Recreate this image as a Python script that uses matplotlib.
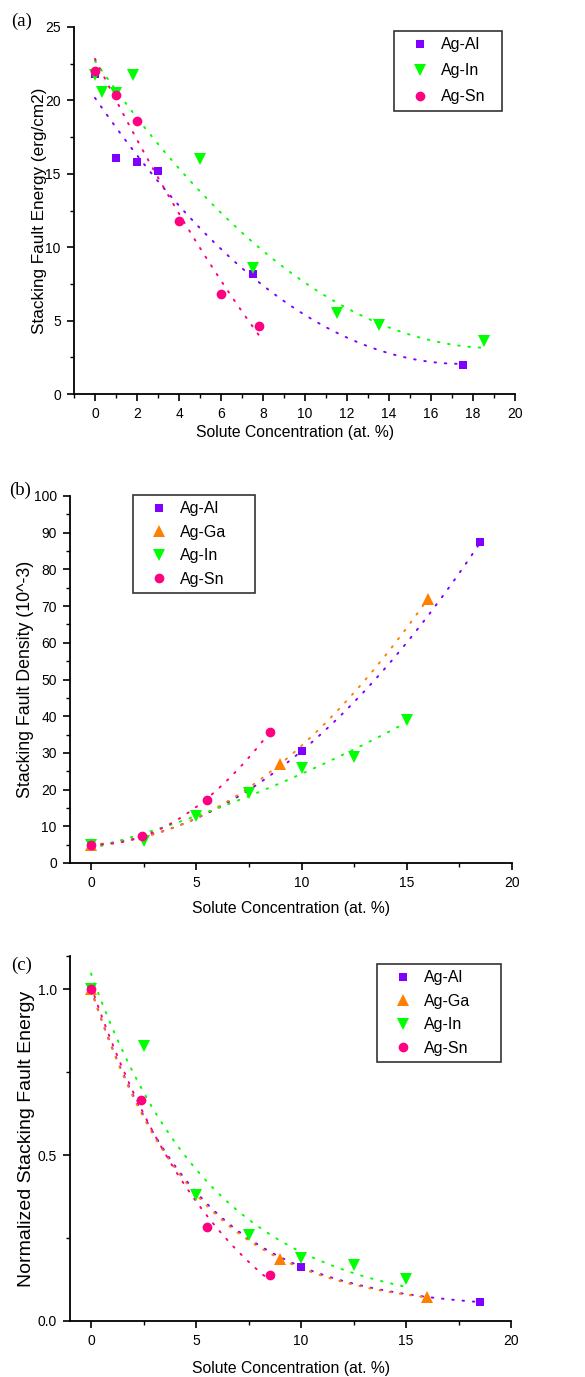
import numpy as np
import matplotlib
matplotlib.use("Agg")
import matplotlib.pyplot as plt
from matplotlib.ticker import MultipleLocator, FixedLocator, FormatStrFormatter

plt.rcParams['font.family'] = ['Liberation Sans', 'DejaVu Sans']

# ---------------- data ----------------
# Panel (a): stacking fault energy (erg/cm2)
a_al_x = [0, 1, 2, 3, 7.5, 17.5]
a_al_y = [21.8, 16.1, 15.8, 15.2, 8.2, 2.0]
a_in_x = [0, 0.35, 1, 1.8, 5, 7.5, 11.5, 13.5, 18.5]
a_in_y = [21.7, 20.6, 20.5, 21.7, 16.0, 8.6, 5.5, 4.7, 3.6]
a_sn_x = [0, 1, 2, 4, 6, 7.8]
a_sn_y = [22.0, 20.4, 18.6, 11.8, 6.8, 4.6]

# Panel (b): stacking fault density (10^-3)
b_al_x = [0, 10, 18.5]
b_al_y = [5, 30.5, 87.4]
b_ga_x = [0, 9, 16]
b_ga_y = [5, 27, 72]
b_in_x = [0, 2.5, 5, 7.5, 10, 12.5, 15]
b_in_y = [5, 6.0, 12.9, 19.0, 25.9, 28.9, 38.9]
b_sn_x = [0, 2.4, 5.5, 8.5]
b_sn_y = [4.9, 7.4, 17.3, 35.8]

# Panel (c): normalized stacking fault energy
c_al_x = [0, 10, 18.5]
c_al_y = [1.0, 0.164, 0.057]
c_ga_x = [0, 9, 16]
c_ga_y = [1.0, 0.188, 0.071]
c_in_x = [0, 2.5, 5, 7.5, 10, 12.5, 15]
c_in_y = [1.0, 0.83, 0.38, 0.26, 0.19, 0.17, 0.126]
c_sn_x = [0, 2.4, 5.5, 8.5]
c_sn_y = [1.0, 0.667, 0.284, 0.138]

colors = {'Ag-Al': '#8000FF', 'Ag-Ga': '#FF8000', 'Ag-In': '#00FF00', 'Ag-Sn': '#FF0080'}
markers = {'Ag-Al': 's', 'Ag-Ga': '^', 'Ag-In': 'v', 'Ag-Sn': 'o'}
msizes = {'Ag-Al': 6.0, 'Ag-Ga': 8.2, 'Ag-In': 8.2, 'Ag-Sn': 7.0}

W, H = 585, 1377
fig = plt.figure(figsize=(W / 100, H / 100), dpi=100)


def px_axes(left, top, right, bottom):
    return fig.add_axes([left / W, 1 - bottom / H, (right - left) / W, (bottom - top) / H])


def style(ax):
    for s in ['top', 'right']:
        ax.spines[s].set_visible(False)
    for s in ['left', 'bottom']:
        ax.spines[s].set_linewidth(1.3)
    ax.tick_params(which='major', direction='out', length=5, width=1.2, labelsize=10, pad=4.5)
    ax.tick_params(which='minor', direction='out', length=3, width=1.0)


def poly_fit(x, y):
    coef = np.polyfit(x, y, 2)
    return lambda xx: np.polyval(coef, xx)


def exp_fit(x, y):
    x = np.asarray(x, float)
    y = np.asarray(y, float)
    best = None
    for tau in np.linspace(0.3, 60, 6000):
        A = np.column_stack([np.exp(-x / tau), np.ones_like(x)])
        coef = np.linalg.lstsq(A, y, rcond=None)[0]
        r = np.sum((A @ coef - y) ** 2)
        if best is None or r < best[0]:
            best = (r, tau, coef)
    _, tau, coef = best
    return lambda xx: coef[0] * np.exp(-xx / tau) + coef[1]


def series(ax, name, x, y, fitter=poly_fit):
    c = colors[name]
    f = fitter(x, y)
    xf = np.linspace(min(x), max(x), 200)
    ax.plot(xf, f(xf), color=c, lw=1.4, ls=(0, (0.8, 4.5)),
            dash_capstyle='round', zorder=2)
    ax.plot(x, y, ls='none', marker=markers[name], ms=msizes[name], color=c,
            mew=0, label=name, zorder=3, clip_on=False)


def legend(ax, left, top, width, height, spacing):
    leg = ax.legend(loc='upper left', mode='expand',
                    bbox_to_anchor=(left / W, 1 - (top + height) / H, width / W, height / H),
                    bbox_transform=fig.transFigure,
                    frameon=True, fancybox=False, edgecolor='black', fontsize=11.5,
                    handlelength=2.45, handletextpad=0.1, labelspacing=spacing,
                    borderpad=0.4, borderaxespad=0, markerscale=1.0)
    leg.get_frame().set_linewidth(1.2)
    return leg


# ---------------- panel (a) ----------------
ax = px_axes(74, 27, 515, 394)
style(ax)
series(ax, 'Ag-Al', a_al_x, a_al_y)
series(ax, 'Ag-In', a_in_x, a_in_y)
series(ax, 'Ag-Sn', a_sn_x, a_sn_y)
ax.set_xlim(-1, 20)
ax.set_ylim(0, 25)
ax.xaxis.set_major_locator(MultipleLocator(2))
ax.xaxis.set_minor_locator(MultipleLocator(1))
ax.yaxis.set_major_locator(MultipleLocator(5))
ax.yaxis.set_minor_locator(MultipleLocator(2.5))
ax.set_xlabel('Solute Concentration (at. %)', fontsize=11.3, labelpad=2.5)
ax.set_ylabel('Stacking Fault Energy (erg/cm2)', fontsize=12.3, labelpad=-1.5)
legend(ax, 394, 31, 108, 88, 0.68)
fig.text(22 / W, 1 - 21 / H, '(a)', family='Liberation Serif', fontsize=13.5,
         va='center', ha='center')

# ---------------- panel (b) ----------------
ax = px_axes(70, 496, 512, 863)
style(ax)
series(ax, 'Ag-Al', b_al_x, b_al_y)
series(ax, 'Ag-Ga', b_ga_x, b_ga_y)
series(ax, 'Ag-In', b_in_x, b_in_y)
series(ax, 'Ag-Sn', b_sn_x, b_sn_y)
ax.set_xlim(-1, 20)
ax.set_ylim(0, 100)
ax.xaxis.set_major_locator(MultipleLocator(5))
ax.xaxis.set_minor_locator(MultipleLocator(2.5))
ax.yaxis.set_major_locator(MultipleLocator(10))
ax.yaxis.set_minor_locator(MultipleLocator(5))
ax.set_xlabel('Solute Concentration (at. %)', fontsize=11.3, labelpad=8)
ax.set_ylabel('Stacking Fault Density (10^-3)', fontsize=12.8, labelpad=-0.5)
legend(ax, 133, 495, 122, 112, 0.525)
fig.text(20 / W, 1 - 490 / H, '(b)', family='Liberation Serif', fontsize=13.5,
         va='center', ha='center')

# ---------------- panel (c) ----------------
ax = px_axes(70, 956, 511, 1321)
style(ax)
series(ax, 'Ag-Al', c_al_x, c_al_y, exp_fit)
series(ax, 'Ag-Ga', c_ga_x, c_ga_y, exp_fit)
series(ax, 'Ag-In', c_in_x, c_in_y, exp_fit)
series(ax, 'Ag-Sn', c_sn_x, c_sn_y, exp_fit)
ax.set_xlim(-1, 20)
ax.set_ylim(0, 1.1)
ax.xaxis.set_major_locator(MultipleLocator(5))
ax.xaxis.set_minor_locator(MultipleLocator(2.5))
ax.yaxis.set_major_locator(FixedLocator([0.0, 0.5, 1.0]))
ax.yaxis.set_minor_locator(FixedLocator([0.25, 0.75, 1.1]))
ax.yaxis.set_major_formatter(FormatStrFormatter('%.1f'))
ax.set_xlabel('Solute Concentration (at. %)', fontsize=11.3, labelpad=9)
ax.set_ylabel('Normalized Stacking Fault Energy', fontsize=14, labelpad=1.5)
legend(ax, 377, 964, 124, 113, 0.525)
fig.text(22 / W, 1 - 965 / H, '(c)', family='Liberation Serif', fontsize=13.5,
         va='center', ha='center')

fig.savefig('out.png', dpi=100)
